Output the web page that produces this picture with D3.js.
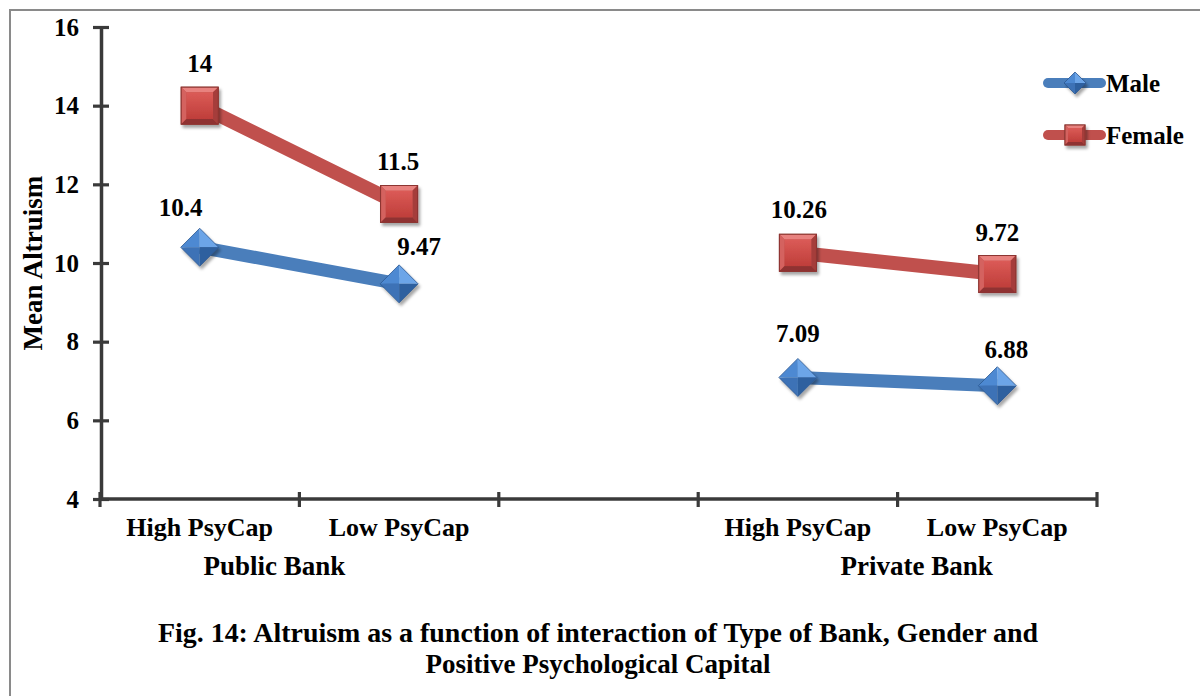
<!DOCTYPE html>
<html>
<head>
<meta charset="utf-8">
<script src="https://cdn.jsdelivr.net/npm/d3@7/dist/d3.min.js"></script>
<style>
  html, body { margin: 0; padding: 0; background: #fff; }
  svg { display: block; }
  text { font-family: "Liberation Serif", "Times New Roman", serif; font-weight: bold; fill: #000; }
</style>
</head>
<body>
<svg id="chart" width="1200" height="696"></svg>
<script>
// ---- data ----
const categories = ["High PsyCap", "Low PsyCap", "", "High PsyCap", "Low PsyCap"];
const groups = ["Public Bank", "Private Bank"];
const seriesNames = ["Male", "Female"];
const maleValues = [10.4, 9.47, null, 7.09, 6.88];
const femaleValues = [14, 11.5, null, 10.26, 9.72];
const yTicks = [4, 6, 8, 10, 12, 14, 16];
const yTitle = "Mean Altruism";
const titleLines = [
  "Fig. 14: Altruism as a function of interaction of Type of Bank, Gender and",
  "Positive Psychological Capital"
];

// ---- label placement (offsets from each point, in px) ----
const maleLabelNudge = [[-19, -40], [20, -37], null, [0, -44], [9, -36]];
const femaleLabelNudge = [[0, -42], [-1, -43], null, [1, -43], [0, -42]];
const groupLabelNudge = [-25, 19];

const svg = d3.select("#chart");
const W = 1200, H = 696;

// outer frame
svg.append("rect")
  .attr("x", 10).attr("y", 10)
  .attr("width", W + 40).attr("height", H + 40)
  .attr("fill", "none").attr("stroke", "#8a8a8a").attr("stroke-width", 2);

// shadow filter for markers
const defs = svg.append("defs");
const f = defs.append("filter").attr("id", "shadow")
  .attr("x", "-50%").attr("y", "-50%").attr("width", "200%").attr("height", "200%");
f.append("feDropShadow").attr("dx", 2).attr("dy", 3).attr("stdDeviation", 1.8)
  .attr("flood-color", "#000").attr("flood-opacity", 0.35);

const sqGrad = defs.append("linearGradient").attr("id", "sqFace")
  .attr("x1", 0).attr("y1", 0).attr("x2", 0).attr("y2", 1);
sqGrad.append("stop").attr("offset", "0%").attr("stop-color", "#DB5B57");
sqGrad.append("stop").attr("offset", "100%").attr("stop-color", "#BF3E3A");

// ---- scales ----
const x = d3.scaleBand().domain(d3.range(categories.length)).range([100, 1097]).padding(0);
const y = d3.scaleLinear().domain([4, 16]).range([499, 27]);
const cx = i => x(i) + x.bandwidth() / 2;

const axisColor = "#3a3a3a";

// ---- y axis ----
const yAxis = svg.append("g").attr("transform", "translate(101,0)")
  .call(d3.axisLeft(y).tickValues(yTicks).tickSize(0).tickPadding(22).tickFormat(d3.format("d")));
yAxis.select(".domain").attr("stroke", axisColor).attr("stroke-width", 3.5);
yAxis.selectAll(".tick text")
  .attr("font-size", 25).attr("font-family", "Liberation Serif").attr("font-weight", "bold")
  .attr("fill", "#000").attr("dy", "0.33em");
yAxis.selectAll(".tick").append("line")
  .attr("x1", -8).attr("x2", 8)
  .attr("stroke", axisColor).attr("stroke-width", 3.2);

// ---- x axis ----
const xTickPos = d3.range(categories.length + 1).map(i => i < categories.length ? x(i) : x(i - 1) + x.bandwidth());
const xAxisG = svg.append("g");
xAxisG.append("line")
  .attr("x1", x.range()[0]).attr("x2", x.range()[1])
  .attr("y1", y(4)).attr("y2", y(4))
  .attr("stroke", axisColor).attr("stroke-width", 3.5);
xAxisG.selectAll("line.tk").data(xTickPos).join("line").attr("class", "tk")
  .attr("x1", d => d).attr("x2", d => d)
  .attr("y1", y(4) - 7).attr("y2", y(4) + 8)
  .attr("stroke", axisColor).attr("stroke-width", 3.2);
xAxisG.selectAll("text.cat").data(categories).join("text").attr("class", "cat")
  .attr("x", (d, i) => cx(i)).attr("y", 536)
  .attr("text-anchor", "middle").attr("font-size", 26)
  .text(d => d);
xAxisG.selectAll("text.grp").data(groups).join("text").attr("class", "grp")
  .attr("x", (d, i) => (cx(i * 3) + cx(i * 3 + 1)) / 2 + groupLabelNudge[i])
  .attr("y", 575)
  .attr("text-anchor", "middle").attr("font-size", 27)
  .text(d => d);

// y title
svg.append("text")
  .attr("transform", "translate(42,263) rotate(-90)")
  .attr("text-anchor", "middle").attr("font-size", 27)
  .text(yTitle);

// ---- markers ----
function drawSquare(g, s) {
  const h = s / 2, b = Math.max(3, s * 0.14);
  const m = g.append("g").attr("filter", "url(#shadow)");
  m.append("rect").attr("x", -h).attr("y", -h).attr("width", s).attr("height", s)
    .attr("fill", "#C0504D").attr("stroke", "#8C3431").attr("stroke-width", 1);
  const poly = (pts, fill) => m.append("polygon").attr("points", pts.map(p => p.join(",")).join(" ")).attr("fill", fill);
  poly([[-h, -h], [h, -h], [h - b, -h + b], [-h + b, -h + b]], "#E8827F");
  poly([[-h, -h], [-h + b, -h + b], [-h + b, h - b], [-h, h]], "#D4625F");
  poly([[h, -h], [h, h], [h - b, h - b], [h - b, -h + b]], "#A53E3B");
  poly([[-h, h], [h, h], [h - b, h - b], [-h + b, h - b]], "#8F3330");
  m.append("rect").attr("x", -h + b).attr("y", -h + b).attr("width", s - 2 * b).attr("height", s - 2 * b)
    .attr("fill", "url(#sqFace)");
  m.append("rect").attr("x", -h).attr("y", -h).attr("width", s).attr("height", s)
    .attr("fill", "none").attr("stroke", "#8C3431").attr("stroke-width", 1);
}
function drawDiamond(g, s) {
  const h = s / 2;
  const m = g.append("g").attr("filter", "url(#shadow)");
  const poly = (pts, fill) => m.append("polygon").attr("points", pts.map(p => p.join(",")).join(" ")).attr("fill", fill);
  poly([[-h, 0], [0, -h], [0, 0]], "#4E89D2");
  poly([[0, -h], [h, 0], [0, 0]], "#6CA5E8");
  poly([[-h, 0], [0, 0], [0, h]], "#3C72B6");
  poly([[0, 0], [h, 0], [0, h]], "#2F609F");
  m.append("polygon").attr("points", [[-h, 0], [0, -h], [h, 0], [0, h]].map(p => p.join(",")).join(" "))
    .attr("fill", "none").attr("stroke", "#2C5890").attr("stroke-width", 0.8);
}

const series = [
  { name: seriesNames[0], values: maleValues, nudge: maleLabelNudge, color: "#4A7EBB", width: 13, marker: drawDiamond, size: 38 },
  { name: seriesNames[1], values: femaleValues, nudge: femaleLabelNudge, color: "#C0504D", width: 14, marker: drawSquare, size: 37 }
];

const line = d3.line()
  .defined(d => d.v !== null)
  .x(d => cx(d.i)).y(d => y(d.v));

series.forEach(s => {
  const pts = s.values.map((v, i) => ({ v, i }));
  svg.append("path").datum(pts)
    .attr("d", line)
    .attr("fill", "none").attr("stroke", s.color).attr("stroke-width", s.width);
});

series.forEach(s => {
  s.values.forEach((v, i) => {
    if (v === null) return;
    const g = svg.append("g").attr("transform", `translate(${cx(i)},${y(v)})`);
    s.marker(g, s.size);
  });
});

series.forEach(s => {
  s.values.forEach((v, i) => {
    if (v === null) return;
    const [dx, dy] = s.nudge[i];
    svg.append("text")
      .attr("x", cx(i) + dx).attr("y", y(v) + dy + 8.5)
      .attr("text-anchor", "middle").attr("font-size", 25)
      .text(String(v));
  });
});

// ---- legend ----
const legend = svg.append("g");
series.forEach((s, k) => {
  const ly = 83 + k * 52;
  legend.append("line")
    .attr("x1", 1048).attr("x2", 1101).attr("y1", ly).attr("y2", ly)
    .attr("stroke", s.color).attr("stroke-width", 10).attr("stroke-linecap", "round");
  const g = legend.append("g").attr("transform", `translate(1075,${ly})`);
  s.marker(g, k === 0 ? 22 : 20);
  legend.append("text")
    .attr("x", 1106).attr("y", ly + 9)
    .attr("font-size", 25)
    .text(s.name);
});

// ---- caption ----
const capW = [880, 345];
svg.selectAll("text.cap").data(titleLines).join("text").attr("class", "cap")
  .attr("x", (d, i) => 598 - capW[i] / 2)
  .attr("y", (d, i) => 642 + i * 31)
  .attr("font-size", 28)
  .attr("textLength", (d, i) => capW[i])
  .attr("lengthAdjust", "spacingAndGlyphs")
  .text(d => d);
</script>
</body>
</html>
